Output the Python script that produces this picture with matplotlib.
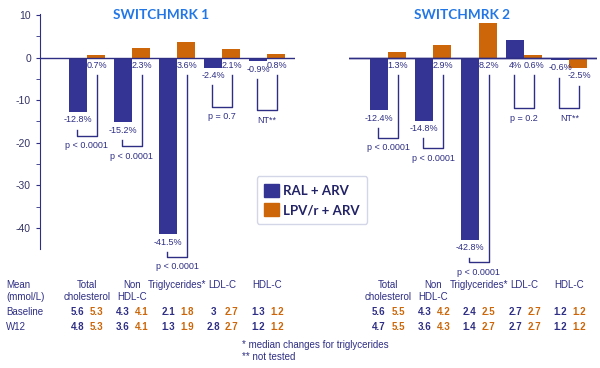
import numpy as np
import matplotlib.pyplot as plt
from matplotlib.patches import Patch
from matplotlib.transforms import blended_transform_factory

plt.rcParams['font.family'] = ['Liberation Sans', 'DejaVu Sans']
plt.rcParams['axes.unicode_minus'] = False

# --- data ---
sw1_ral = [-12.8, -15.2, -41.5, -2.4, -0.9]
sw1_lpv = [0.7, 2.3, 3.6, 2.1, 0.8]
sw1_p = ['p < 0.0001', 'p < 0.0001', 'p < 0.0001', 'p = 0.7', 'NT**']

sw2_ral = [-12.4, -14.8, -42.8, 4.0, -0.6]
sw2_lpv = [1.3, 2.9, 8.2, 0.6, -2.5]
sw2_p = ['p < 0.0001', 'p < 0.0001', 'p < 0.0001', 'p = 0.2', 'NT**']

head_top = ['Total', 'Non', 'Triglycerides*', 'LDL-C', 'HDL-C']
head_bot = ['cholesterol', 'HDL-C', '', '', '']

sw1_base_ral = [5.6, 4.3, 2.1, 3, 1.3]
sw1_base_lpv = [5.3, 4.1, 1.8, 2.7, 1.2]
sw1_w12_ral = [4.8, 3.6, 1.3, 2.8, 1.2]
sw1_w12_lpv = [5.3, 4.1, 1.9, 2.7, 1.2]

sw2_base_ral = [5.6, 4.3, 2.4, 2.7, 1.2]
sw2_base_lpv = [5.5, 4.2, 2.5, 2.7, 1.2]
sw2_w12_ral = [4.7, 3.6, 1.4, 2.7, 1.2]
sw2_w12_lpv = [5.5, 4.3, 2.7, 2.7, 1.2]

# bracket bottoms (annotation layout, data units)
sw1_brk = [-18.3, -20.8, -46.8, -11.5, -12.4]
sw2_brk = [-18.9, -21.3, -48.0, -11.9, -11.9]

BLUE = '#343495'
ORANGE = '#CC6608'
NAVY = '#2E2E85'
TITLE = '#2277E6'

fig = plt.figure(figsize=(6, 3.68), dpi=100)
ax1 = fig.add_axes([40 / 600, 1 - 249 / 368, 255 / 600, 235 / 368])
ax2 = fig.add_axes([349 / 600, 1 - 249 / 368, 248 / 600, 235 / 368])


def draw_panel(ax, ral, lpv, pvals, brk, xlim):
    x = np.arange(len(ral))
    ax.bar(x - 0.2, ral, 0.4, color=BLUE)
    ax.bar(x + 0.2, lpv, 0.4, color=ORANGE)
    ax.axhline(0, color=NAVY, lw=1)
    ax.set_xlim(*xlim)
    ax.set_ylim(-44.9, 10.2)
    ax.set_xticks([])
    for i in x:
        yb = min(ral[i], 0) - 1.8
        yo = min(lpv[i], 0) - 1.8
        ax.text(i - 0.2, yb, f"{ral[i]:g}%", ha='center', va='center',
                fontsize=6.5, color=NAVY)
        ax.text(i + 0.22, yo, f"{lpv[i]:g}%", ha='center', va='center',
                fontsize=6.5, color=NAVY)
        ax.plot([i - 0.22, i - 0.22, i + 0.22, i + 0.22],
                [yb - 2.3, brk[i], brk[i], yo - 2.3],
                color=NAVY, lw=1, clip_on=False)
        ax.text(i, brk[i] - 2.3, pvals[i], ha='center', va='center',
                fontsize=6.5, color=NAVY, clip_on=False)


draw_panel(ax1, sw1_ral, sw1_lpv, sw1_p, sw1_brk, (-1.04, 4.62))
draw_panel(ax2, sw2_ral, sw2_lpv, sw2_p, sw2_brk, (-0.86, 4.61))

for s in ['top', 'right', 'bottom']:
    ax1.spines[s].set_visible(False)
ax1.spines['left'].set_color(NAVY)
ax1.set_yticks([-40, -30, -20, -10, 0, 10])
ax1.set_yticks(np.arange(-40, 11, 5), minor=True)
ax1.tick_params(axis='y', which='both', colors=NAVY, length=3, labelsize=7.5,
                labelcolor='#333366')
ax1.tick_params(axis='x', length=0)

ax2.axis('off')
ax2.axhline(0, color=NAVY, lw=1)

fig.text(161 / 600, 1 - 15 / 368, 'SWITCHMRK 1', ha='center', va='center',
         fontsize=9.8, fontweight='bold', color=TITLE, family='Lato')
fig.text(462 / 600, 1 - 15 / 368, 'SWITCHMRK 2', ha='center', va='center',
         fontsize=9.8, fontweight='bold', color=TITLE, family='Lato')

handles = [Patch(color=BLUE, label='RAL + ARV'), Patch(color=ORANGE, label='LPV/r + ARV')]
leg = fig.legend(handles=handles, loc='center', bbox_to_anchor=(312 / 600, 1 - 200 / 368),
                 fancybox=True, edgecolor='#c8cce0', handlelength=1.1, handleheight=1.1,
                 handletextpad=0.3, labelspacing=0.5, borderpad=0.6,
                 prop={'family': 'Lato', 'weight': 'bold', 'size': 9.5})
for t in leg.get_texts():
    t.set_color('#222266')

# --- table under the chart ---
rows_y = [1 - 285 / 368, 1 - 297.5 / 368, 1 - 312 / 368, 1 - 326.5 / 368]
fig.text(0.01, rows_y[0], 'Mean', fontsize=7, color=NAVY, va='center')
fig.text(0.01, rows_y[1], '(mmol/L)', fontsize=7, color=NAVY, va='center')
fig.text(0.01, rows_y[2], 'Baseline', fontsize=7, color=NAVY, va='center')
fig.text(0.01, rows_y[3], 'W12', fontsize=7, color=NAVY, va='center')


def draw_table(ax, base_ral, base_lpv, w12_ral, w12_lpv):
    tr = blended_transform_factory(ax.transData, fig.transFigure)
    for i in range(len(head_top)):
        fig.text(i, rows_y[0], head_top[i], transform=tr, ha='center', va='center',
                 fontsize=7, color=NAVY)
        fig.text(i, rows_y[1], head_bot[i], transform=tr, ha='center', va='center',
                 fontsize=7, color=NAVY)
        for row, r, o in [(2, base_ral, base_lpv), (3, w12_ral, w12_lpv)]:
            fig.text(i - 0.2, rows_y[row], f"{r[i]:g}", transform=tr, ha='center',
                     va='center', fontsize=7, fontweight='bold', color=NAVY)
            fig.text(i + 0.22, rows_y[row], f"{o[i]:g}", transform=tr, ha='center',
                     va='center', fontsize=7, fontweight='bold', color=ORANGE)


draw_table(ax1, sw1_base_ral, sw1_base_lpv, sw1_w12_ral, sw1_w12_lpv)
draw_table(ax2, sw2_base_ral, sw2_base_lpv, sw2_w12_ral, sw2_w12_lpv)

fig.text(242 / 600, 1 - 345 / 368, '* median changes for triglycerides', fontsize=7,
         color=NAVY, va='center')
fig.text(242 / 600, 1 - 357 / 368, '** not tested', fontsize=7, color=NAVY, va='center')

fig.savefig('out.png', dpi=100)
